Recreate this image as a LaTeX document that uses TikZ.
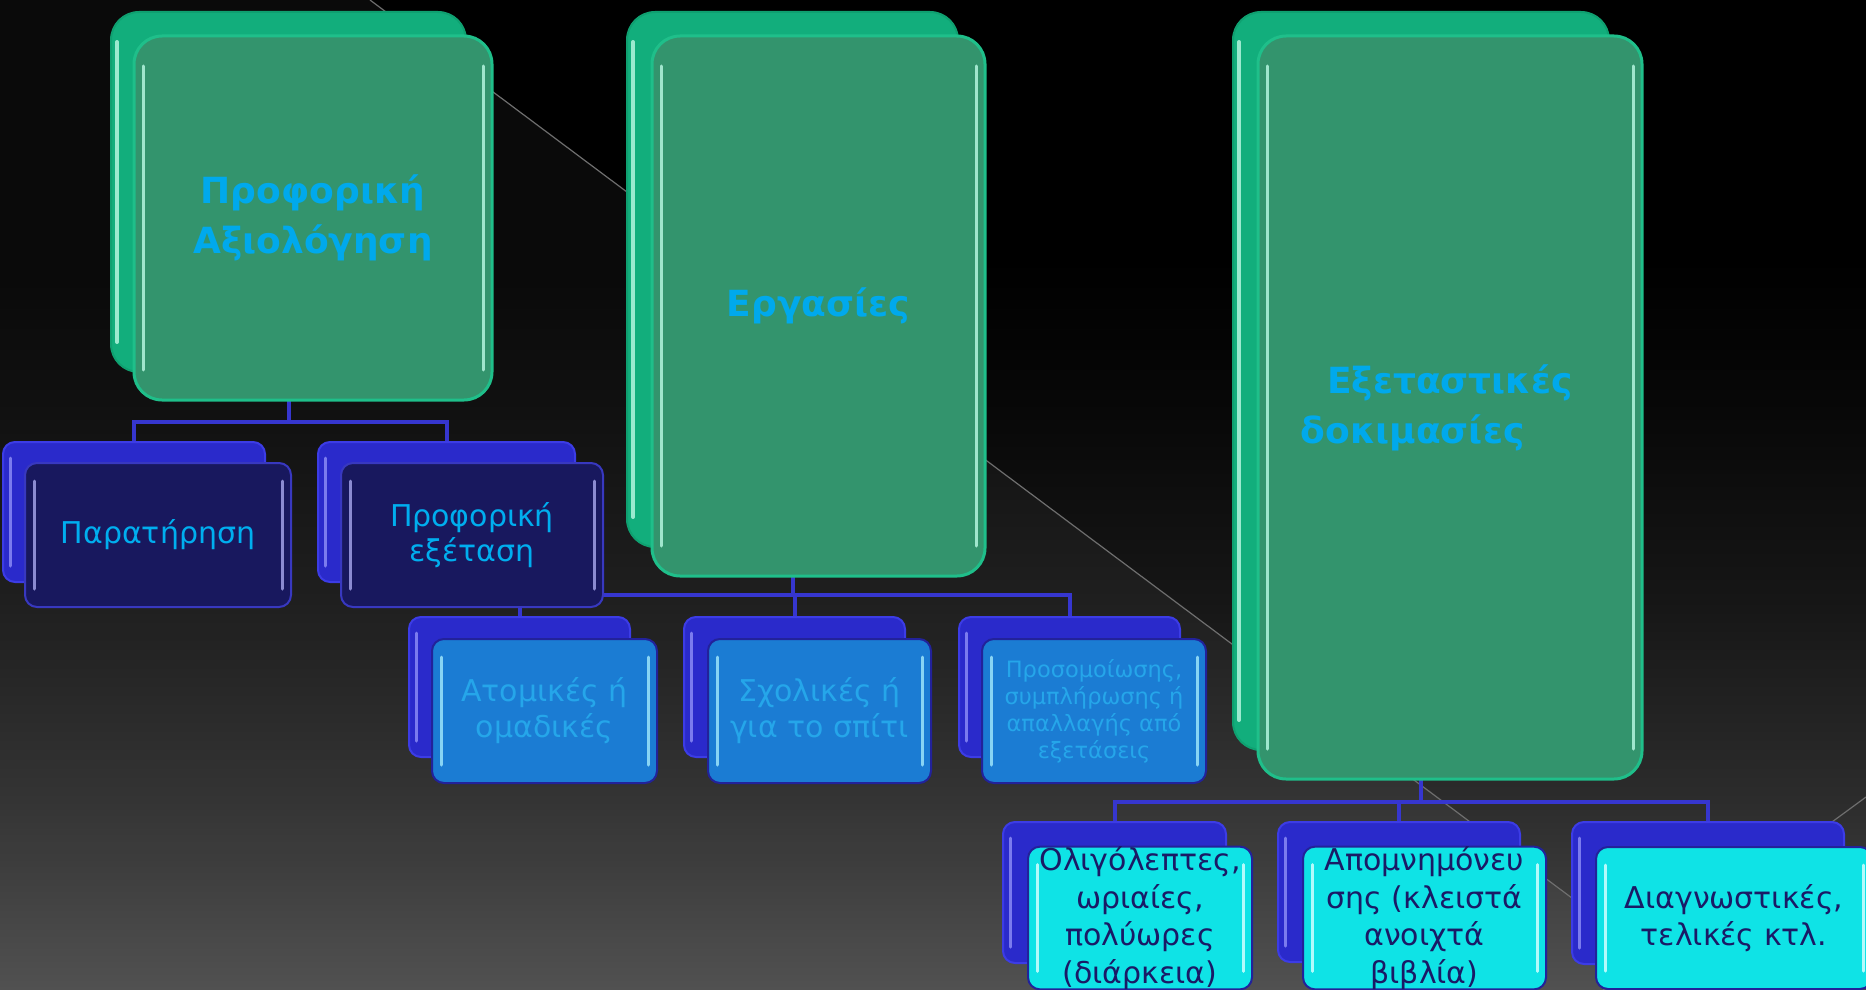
\documentclass[tikz,border=0pt]{standalone}
\usepackage{fontspec}
\setmainfont{DejaVu Sans}
\pgfdeclarelayer{bgzero}
\pgfdeclarelayer{bgone}
\pgfsetlayers{bgzero,bgone,main}
\definecolor{gfront}{HTML}{33946D}
\definecolor{gfrontedge}{HTML}{1FBF8A}
\definecolor{gback}{HTML}{12AE7C}
\definecolor{gbackedge}{HTML}{0FA070}
\definecolor{gstripe}{HTML}{B4F5DE}
\definecolor{bback}{HTML}{2A2ACB}
\definecolor{bbackedge}{HTML}{3C3CE6}
\definecolor{bbackstripe}{HTML}{8A8AF5}
\definecolor{nfront}{HTML}{18185E}
\definecolor{nfrontedge}{HTML}{3838C0}
\definecolor{nstripe}{HTML}{A0A0E6}
\definecolor{mfront}{HTML}{1B7CD3}
\definecolor{mfrontedge}{HTML}{22229A}
\definecolor{mstripe}{HTML}{9CE4FA}
\definecolor{cfront}{HTML}{0FE3E6}
\definecolor{cfrontedge}{HTML}{22229A}
\definecolor{cstripe}{HTML}{D0FFFF}
\definecolor{titlecol}{HTML}{00A9EC}
\definecolor{tonecol}{HTML}{00AEEF}
\definecolor{ttwocol}{HTML}{25A6EA}
\definecolor{tthreecol}{HTML}{1A1A66}
\definecolor{conncol}{HTML}{3636CF}
\definecolor{bgA}{HTML}{4A4A4A}
\definecolor{bgB}{HTML}{2C2C2C}
\definecolor{bgC}{HTML}{161616}
\definecolor{bgD}{HTML}{070707}
\definecolor{diagcol}{HTML}{6E6E6E}
\pgfdeclareverticalshading{slidebg}{100bp}{color(0bp)=(bgA); color(25bp)=(bgA); color(34.6bp)=(bgB); color(44.7bp)=(bgC); color(54.8bp)=(bgD); color(62bp)=(black); color(100bp)=(black)}
% #1 style, #2..#5 = left, top, right, bottom (pixels), #6 = name
\newcommand\slidebox[6]{\node[#1, minimum width={(#4-#2)*1pt}, minimum height={(#5-#3)*1pt}] (#6) at ({(#2+#4)/2},{(#3+#5)/2})}
\begin{document}
\begin{tikzpicture}[x=1pt,y=-1pt,
  boxbase/.style={rectangle, inner sep=0pt, outer sep=0pt, align=center},
  lrstripes/.style n args={4}{path picture={
    \draw[#1, line width=#2, line cap=round, opacity=0.85]
      ([xshift=#3, yshift=-#4]path picture bounding box.north west) -- ([xshift=#3, yshift=#4]path picture bounding box.south west)
      ([xshift=-#3, yshift=-#4]path picture bounding box.north east) -- ([xshift=-#3, yshift=#4]path picture bounding box.south east);}},
  lstripe/.style n args={4}{path picture={
    \draw[#1, line width=#2, line cap=round, opacity=0.85]
      ([xshift=#3, yshift=-#4]path picture bounding box.north west) -- ([xshift=#3, yshift=#4]path picture bounding box.south west);}},
  bigback/.style={boxbase, rounded corners=28pt, fill=gback, draw=gbackedge, line width=2pt, lstripe={gstripe}{4pt}{6pt}{30pt}},
  bigfront/.style={boxbase, rounded corners=28pt, fill=gfront, draw=gfrontedge, line width=3pt, lrstripes={gstripe}{3pt}{9pt}{30pt},
     text=titlecol, font=\fontsize{36}{50}\selectfont\bfseries},
  smallback/.style={boxbase, rounded corners=12pt, fill=bback, draw=bbackedge, line width=2pt, lstripe={bbackstripe}{3pt}{7pt}{16pt}},
  navyfront/.style={boxbase, rounded corners=12pt, fill=nfront, draw=nfrontedge, line width=2pt, lrstripes={nstripe}{3pt}{9pt}{18pt},
     text=tonecol, font=\fontsize{30}{35}\selectfont},
  midfront/.style={boxbase, rounded corners=12pt, fill=mfront, draw=mfrontedge, line width=2pt, lrstripes={mstripe}{3pt}{9pt}{18pt},
     text=ttwocol, font=\fontsize{30}{36}\selectfont},
  cyanfront/.style={boxbase, rounded corners=12pt, fill=cfront, draw=cfrontedge, line width=2pt, lrstripes={cstripe}{3pt}{9pt}{18pt},
     text=tthreecol, font=\fontsize{30}{37.5}\selectfont},
  conn/.style={draw=conncol, line width=4pt}
]
\useasboundingbox (0,0) rectangle (1866,990);
\begin{pgfonlayer}{bgzero}
  \shade[shading=slidebg] (0,0) rectangle (1866,990);
  \fill[white, opacity=0.04] (0,0) -- (370,0) -- (1695,990) -- (0,990) -- cycle;
  \draw[diagcol, line width=1.2pt] (370,0) -- (1695,990);
  \draw[diagcol, line width=1.2pt] (1866,797) -- (1603,990);
\end{pgfonlayer}

% top level
\slidebox{bigback}{111}{12}{466}{372}{b1} {};
\slidebox{bigfront}{134}{36}{492}{400}{f1} {Προφορική\\Αξιολόγηση};
\slidebox{bigback}{627}{12}{958}{547}{b2} {};
\slidebox{bigfront}{652}{36}{985}{576}{f2} {Εργασίες};
\slidebox{bigback}{1233}{12}{1609}{750}{b3} {};
\slidebox{bigfront}{1258}{36}{1642}{779}{f3} {Εξεταστικές\\δοκιμασίες\kern75pt};

% level 1
\slidebox{smallback}{3}{442}{265}{582}{c11b} {};
\slidebox{navyfront}{25}{463}{291}{607}{c11} {Παρατήρηση};
\slidebox{smallback}{318}{442}{575}{582}{c12b} {};
\slidebox{navyfront}{341}{463}{603}{607}{c12} {Προφορική\\εξέταση};

% level 2
\slidebox{smallback}{409}{617}{630}{757}{c21b} {};
\slidebox{midfront}{432}{639}{657}{783}{c21} {Ατομικές ή\\ομαδικές};
\slidebox{smallback}{684}{617}{905}{757}{c22b} {};
\slidebox{midfront}{708}{639}{931}{783}{c22} {Σχολικές ή\\για το σπίτι};
\slidebox{smallback}{959}{617}{1180}{757}{c23b} {};
\slidebox{midfront, font=\fontsize{22.5}{27}\selectfont}{982}{639}{1206}{783}{c23} {Προσομοίωσης,\\συμπλήρωσης ή\\απαλλαγής από\\εξετάσεις};

% level 3
\slidebox{smallback}{1003}{822}{1226}{963}{c31b} {};
\slidebox{cyanfront}{1028}{847}{1252}{989}{c31} {Ολιγόλεπτες,\\ωριαίες,\\πολύωρες\\(διάρκεια)};
\slidebox{smallback}{1278}{822}{1520}{962}{c32b} {};
\slidebox{cyanfront}{1303}{847}{1546}{989}{c32} {Απομνημόνευ\\σης (κλειστά\\ανοιχτά\\βιβλία)};
\slidebox{smallback}{1572}{822}{1844}{964}{c33b} {};
\slidebox{cyanfront}{1596}{847}{1872}{989}{c33} {Διαγνωστικές,\\τελικές κτλ.};

% connectors
\coordinate (barone) at (0,422);
\coordinate (bartwo) at (0,595);
\coordinate (barthree) at (0,802);
\begin{pgfonlayer}{bgone}
  \draw[conn] (b1.south) -- (b1.south |- barone);
  \draw[conn] (c11b.north) |- (c12b.north |- barone) -- (c12b.north);
  \draw[conn] (b2.south) -- (b2.south |- bartwo);
  \draw[conn] (c21b.north) |- (c23b.north |- bartwo) -- (c23b.north);
  \draw[conn] (c22b.north) -- (c22b.north |- bartwo);
  \draw[conn] (b3.south) -- (b3.south |- barthree);
  \draw[conn] (c31b.north) |- (c33b.north |- barthree) -- (c33b.north);
  \draw[conn] (c32b.north) -- (c32b.north |- barthree);
\end{pgfonlayer}
\end{tikzpicture}
\end{document}
